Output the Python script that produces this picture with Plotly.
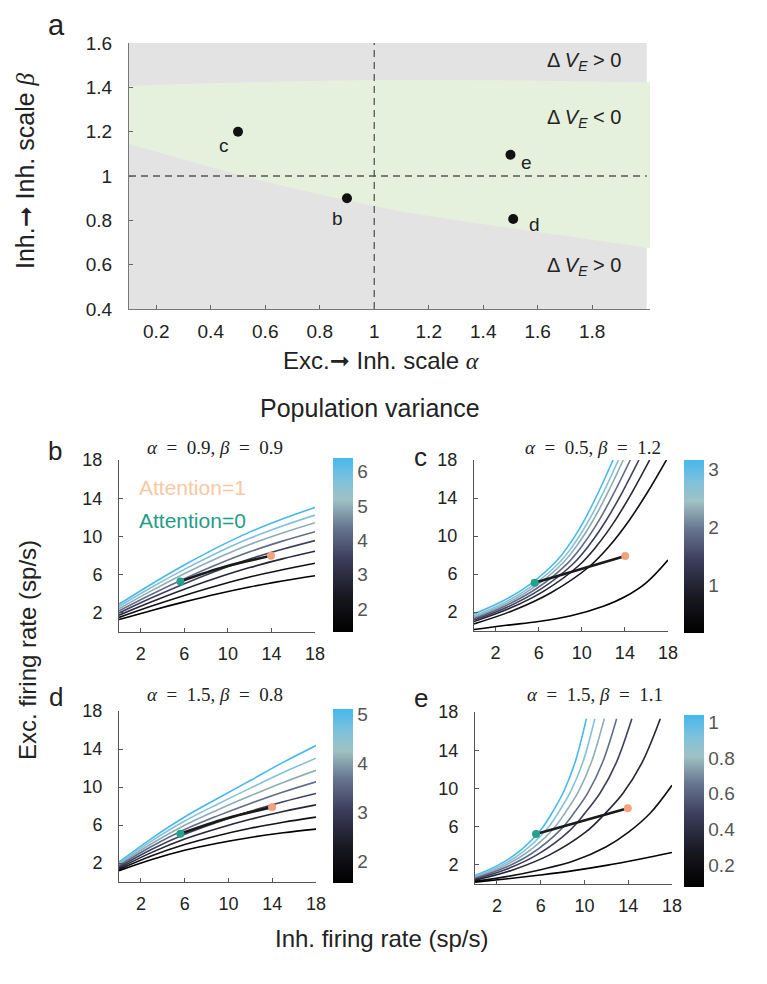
import plotly.graph_objects as go
from plotly.colors import sample_colorscale

# The page body has an 8px margin; the figure is sized so page == 767x984.
OFF = 8
W, H = 767 - OFF, 984 - OFF
FONT = "Liberation Sans, Arial, sans-serif"
SERIF = "Liberation Serif, DejaVu Serif, serif"

# ---------------- Panel a data ----------------
alpha_range = [0.1, 2.0]
beta_range = [0.4, 1.6]
alpha_ticks = [0.2, 0.4, 0.6, 0.8, 1, 1.2, 1.4, 1.6, 1.8]
beta_ticks = [0.4, 0.6, 0.8, 1, 1.2, 1.4, 1.6]
green_top_alpha = [0.1, 0.2, 0.3, 0.5, 0.7, 1.0, 1.25, 1.5, 1.75, 2.012]
green_top_beta = [1.406, 1.411, 1.415, 1.422, 1.428, 1.433, 1.434, 1.432, 1.428, 1.423]
green_bot_alpha = [0.1, 0.3, 0.5, 0.7, 0.9, 1.1, 1.3, 1.5, 1.7, 1.9, 2.012]
green_bot_beta = [1.144, 1.075, 1.006, 0.945, 0.89, 0.84, 0.80, 0.767, 0.73, 0.695, 0.675]
ref_alpha = 1.0
ref_beta = 1.0
pt_labels = ["c", "b", "e", "d"]
pt_alpha = [0.5, 0.9, 1.5, 1.51]
pt_beta = [1.2, 0.9, 1.096, 0.806]
region_alpha = [1.77, 1.77, 1.77]
region_beta = [1.515, 1.26, 0.594]
region_text = ["&gt;", "&lt;", "&gt;"]

# ---------------- Panels b-e data (Inh. rate x, Exc. rate y) ----------------
rate_ticks = [2, 6, 10, 14, 18]

b_x = [0, 3, 6, 9, 12, 15, 18]
b_y = [
    [2.90, 5.03, 7.01, 8.83, 10.45, 11.82, 13.04],
    [2.67, 4.68, 6.55, 8.27, 9.80, 11.09, 12.24],
    [2.44, 4.33, 6.09, 7.71, 9.15, 10.36, 11.44],
    [2.21, 3.95, 5.57, 7.06, 8.39, 9.51, 10.50],
    [1.99, 3.58, 5.06, 6.42, 7.64, 8.66, 9.57],
    [1.76, 3.16, 4.47, 5.67, 6.74, 7.65, 8.45],
    [1.53, 2.72, 3.83, 4.85, 5.75, 6.52, 7.20],
    [1.30, 2.26, 3.15, 3.98, 4.71, 5.33, 5.88],
]
b_var = [6.40, 5.68, 4.95, 4.23, 3.50, 2.78, 2.05, 1.33]
b_var_range = [1.33, 6.4]
b_var_ticks = [2, 3, 4, 5, 6]
b_att_x = [5.64, 9.8, 13.96]
b_att_y = [5.29, 6.85, 7.97]

c_x = [
    [0, 2.58, 5.16, 7.74, 9.03, 10.32, 11.61, 12.9],
    [0, 2.68, 5.36, 8.04, 9.38, 10.72, 12.06, 13.4],
    [0, 2.77, 5.54, 8.31, 9.70, 11.08, 12.47, 13.85],
    [0, 2.9, 5.8, 8.7, 10.15, 11.6, 13.05, 14.5],
    [0, 3.06, 6.12, 9.18, 10.71, 12.24, 13.77, 15.3],
    [0, 3.26, 6.52, 9.78, 11.41, 13.04, 14.67, 16.3],
    [0, 3.57, 7.14, 10.71, 12.50, 14.28, 16.07, 17.85],
    [0, 3, 6, 9, 12, 14, 16, 18],
]
c_y = [
    [1.8, 3.10, 4.88, 7.47, 9.41, 11.84, 14.76, 18],
    [1.6, 2.91, 4.72, 7.34, 9.31, 11.77, 14.72, 18],
    [1.45, 2.77, 4.59, 7.24, 9.23, 11.71, 14.69, 18],
    [1.3, 2.64, 4.47, 7.15, 9.15, 11.65, 14.66, 18],
    [1.15, 2.50, 4.35, 7.05, 9.07, 11.60, 14.63, 18],
    [1.0, 2.36, 4.23, 6.95, 8.99, 11.54, 14.6, 18],
    [0.75, 2.13, 4.03, 6.79, 8.86, 11.45, 14.55, 18],
    [0.15, 0.6, 1.0, 1.6, 2.6, 3.6, 5.1, 7.47],
]
c_var = [3.17, 2.74, 2.31, 1.88, 1.46, 1.03, 0.60, 0.17]
c_var_range = [0.17, 3.17]
c_var_ticks = [1, 2, 3]
c_att_x = [5.63, 14.03]
c_att_y = [5.09, 7.9]

d_x = [0, 3, 6, 9, 12, 15, 18]
d_y = [
    [2.10, 4.60, 6.84, 8.79, 10.69, 12.59, 14.36],
    [1.97, 4.33, 6.42, 8.19, 9.88, 11.53, 13.03],
    [1.84, 4.05, 5.97, 7.58, 9.07, 10.48, 11.76],
    [1.71, 3.76, 5.52, 6.96, 8.27, 9.47, 10.54],
    [1.58, 3.45, 5.03, 6.30, 7.44, 8.44, 9.31],
    [1.45, 3.12, 4.52, 5.63, 6.60, 7.42, 8.12],
    [1.32, 2.76, 3.94, 4.87, 5.65, 6.29, 6.83],
    [1.19, 2.37, 3.34, 4.08, 4.69, 5.18, 5.57],
]
d_var = [5.10, 4.59, 4.09, 3.58, 3.08, 2.57, 2.07, 1.56]
d_var_range = [1.56, 5.1]
d_var_ticks = [2, 3, 4, 5]
d_att_x = [5.61, 9.8, 13.99]
d_att_y = [5.08, 6.68, 7.88]

e_x = [
    [0, 2.04, 4.07, 6.11, 7.13, 8.14, 9.16, 10.18],
    [0, 2.19, 4.38, 6.57, 7.67, 8.76, 9.86, 10.95],
    [0, 2.36, 4.72, 7.09, 8.27, 9.45, 10.63, 11.81],
    [0, 2.59, 5.18, 7.76, 9.06, 10.35, 11.65, 12.94],
    [0, 2.87, 5.73, 8.60, 10.03, 11.46, 12.90, 14.33],
    [0, 3.39, 6.77, 10.16, 11.85, 13.54, 15.24, 16.93],
    [0, 3, 6, 9, 12, 14, 16, 18],
    [0, 3, 6, 9, 12, 15, 18],
]
e_y = [
    [0.9, 1.92, 3.44, 5.82, 7.62, 9.76, 12.79, 17.3],
    [0.8, 1.82, 3.36, 5.75, 7.57, 9.71, 12.76, 17.3],
    [0.7, 1.73, 3.27, 5.68, 7.51, 9.66, 12.74, 17.3],
    [0.6, 1.64, 3.19, 5.61, 7.45, 9.62, 12.71, 17.3],
    [0.5, 1.54, 3.10, 5.54, 7.39, 9.57, 12.68, 17.3],
    [0.4, 1.45, 3.02, 5.47, 7.33, 9.53, 12.65, 17.3],
    [0.3, 0.8, 1.5, 2.4, 3.9, 5.4, 7.4, 10.33],
    [0.2, 0.55, 0.95, 1.4, 1.95, 2.6, 3.3],
]
e_var = [1.04, 0.90, 0.77, 0.63, 0.49, 0.35, 0.22, 0.08]
e_var_range = [0.08, 1.04]
e_var_ticks = [0.2, 0.4, 0.6, 0.8, 1]
e_att_x = [5.58, 13.96]
e_att_y = [5.22, 7.93]

# ---------------- styles ----------------
CS = [[0.0, "#000000"], [0.2, "#17171f"], [0.42, "#3c3d5c"], [0.6, "#677590"],
      [0.76, "#9fc2c3"], [0.88, "#7cc1dc"], [1.0, "#46b8ec"]]
GREEN = "#25a08a"
ORANGE = "#f5a27c"


def px(x):
    return (x - OFF) / W


def py(y):
    return 1 - (y - OFF) / H


fig = go.Figure()

# ---------------- Panel a ----------------
fig.add_trace(go.Scatter(
    x=[alpha_range[0], alpha_range[1], alpha_range[1], alpha_range[0]],
    y=[beta_range[0], beta_range[0], beta_range[1], beta_range[1]],
    fill="toself", fillcolor="#e3e3e3", mode="lines", line=dict(width=0),
    hoverinfo="skip", xaxis="x", yaxis="y"))
fig.add_trace(go.Scatter(
    x=green_top_alpha + green_bot_alpha[::-1],
    y=green_top_beta + green_bot_beta[::-1],
    fill="toself", fillcolor="#e5f1dc", mode="lines", line=dict(width=0),
    hoverinfo="skip", xaxis="x", yaxis="y"))
fig.add_trace(go.Scatter(
    x=[ref_alpha, ref_alpha], y=beta_range, mode="lines",
    line=dict(color="#555555", width=1.3, dash="7px,5px"), xaxis="x", yaxis="y"))
fig.add_trace(go.Scatter(
    x=alpha_range, y=[ref_beta, ref_beta], mode="lines",
    line=dict(color="#555555", width=1.3, dash="7px,5px"), xaxis="x", yaxis="y"))
fig.add_trace(go.Scatter(
    x=pt_alpha, y=pt_beta, mode="markers",
    marker=dict(color="#111111", size=10), xaxis="x", yaxis="y"))

annotations = []
label_shift = {"c": (-14, -14), "b": (-9, -20), "e": (16, -8), "d": (21, -5)}
for lab, a, b in zip(pt_labels, pt_alpha, pt_beta):
    dx, dy = label_shift[lab]
    annotations.append(dict(text=lab, x=a, y=b, xref="x", yref="y", showarrow=False,
                            xshift=dx, yshift=dy, font=dict(size=19, color="#222", family=FONT)))
for a, b, sgn in zip(region_alpha, region_beta, region_text):
    annotations.append(dict(
        text="Δ <i>V</i><sub><i>E</i></sub> " + sgn + " 0", x=a, y=b, xref="x", yref="y",
        showarrow=False, font=dict(size=20, color="#222", family=FONT)))

# ---------------- Panels b-e ----------------
panels = [
    ("2", [b_x] * 8, b_y, b_var, b_var_range, b_var_ticks, b_att_x, b_att_y, "spline",
     dict(x=333, yc=545, h=174)),
    ("3", c_x, c_y, c_var, c_var_range, c_var_ticks, c_att_x, c_att_y, "linear",
     dict(x=684, yc=546.5, h=173)),
    ("4", [d_x] * 8, d_y, d_var, d_var_range, d_var_ticks, d_att_x, d_att_y, "spline",
     dict(x=333, yc=796, h=174)),
    ("5", e_x, e_y, e_var, e_var_range, e_var_ticks, e_att_x, e_att_y, "linear",
     dict(x=684, yc=801, h=172)),
]

for ax, xs, ys, var, vr, vt, attx, atty, lshape, cb in panels:
    xa, ya = "x" + ax, "y" + ax
    for xx, yy, v in zip(xs, ys, var):
        col = sample_colorscale(CS, [(v - vr[0]) / (vr[1] - vr[0])])[0]
        fig.add_trace(go.Scatter(x=xx, y=yy, mode="lines",
                                 line=dict(color=col, width=1.6, shape="spline", smoothing=1.0),
                                 hoverinfo="skip", xaxis=xa, yaxis=ya))
    fig.add_trace(go.Scatter(x=attx, y=atty, mode="lines",
                             line=dict(color="#1a1a1a", width=2.6, shape=lshape),
                             hoverinfo="skip", xaxis=xa, yaxis=ya))
    fig.add_trace(go.Scatter(x=[attx[0]], y=[atty[0]], mode="markers",
                             marker=dict(color=GREEN, size=8), xaxis=xa, yaxis=ya))
    fig.add_trace(go.Scatter(x=[attx[-1]], y=[atty[-1]], mode="markers",
                             marker=dict(color=ORANGE, size=8), xaxis=xa, yaxis=ya))
    # colorbar carrier
    fig.add_trace(go.Scatter(
        x=[attx[0], attx[0]], y=[atty[0], atty[0]], mode="markers",
        marker=dict(size=1, opacity=0, color=vr, cmin=vr[0], cmax=vr[1], colorscale=CS,
                    showscale=True,
                    colorbar=dict(x=px(cb["x"]), xanchor="left", xpad=0, ypad=0,
                                  y=py(cb["yc"]), yanchor="middle", len=cb["h"] / H,
                                  lenmode="fraction", thickness=20, thicknessmode="pixels",
                                  outlinewidth=0, tickvals=vt, ticks="",
                                  tickfont=dict(size=19, color="#555", family=FONT))),
        hoverinfo="skip", xaxis=xa, yaxis=ya))

# ---------------- layout ----------------
small_common = dict(range=[0, 18], tickvals=rate_ticks, ticks="inside", ticklen=4,
                    tickcolor="#555", showline=True, linecolor="#555", linewidth=1,
                    showgrid=False, zeroline=False,
                    tickfont=dict(size=18, color="#222", family=FONT))

dom = {
    "2": ([119, 315], [460, 632]),
    "3": ([474, 668], [460, 631]),
    "4": ([119, 316], [711, 882]),
    "5": ([475, 672], [712, 884]),
}

layout = dict(
    width=W, height=H, margin=dict(l=0, r=0, t=0, b=0, autoexpand=False),
    paper_bgcolor="white", plot_bgcolor="white", showlegend=False,
    font=dict(family=FONT, color="#222"),
    xaxis=dict(domain=[px(129), px(650)], range=[0.1, 2.012], tickvals=alpha_ticks,
               ticks="inside", ticklen=4, tickcolor="#666", showline=True, linecolor="#777",
               showgrid=False, zeroline=False, anchor="y", ticklabelstandoff=5,
               tickfont=dict(size=19, color="#222", family=FONT)),
    yaxis=dict(domain=[py(309), py(43)], range=beta_range, tickvals=beta_ticks,
               ticks="inside", ticklen=4, tickcolor="#666", showline=True, linecolor="#777",
               showgrid=False, zeroline=False, anchor="x", ticklabelstandoff=12,
               tickfont=dict(size=19, color="#222", family=FONT)),
)
for k, (xd, yd) in dom.items():
    layout["xaxis" + k] = dict(small_common, domain=[px(xd[0]), px(xd[1])], anchor="y" + k,
                               ticklabelstandoff=5)
    layout["yaxis" + k] = dict(small_common, domain=[py(yd[1]), py(yd[0])], anchor="x" + k,
                               ticklabelstandoff=12)


def ann(text, xp, yp, size, color="#222", family=FONT, angle=0, xanchor="center"):
    return dict(text=text, x=px(xp), y=py(yp), xref="paper", yref="paper", showarrow=False,
                font=dict(size=size, color=color, family=family), textangle=angle,
                xanchor=xanchor, yanchor="middle")


GA = '<span style="font-family:Liberation Serif"><i>α</i></span>'
GB = '<span style="font-family:Liberation Serif"><i>β</i></span>'
ARR = '<span style="font-family:DejaVu Sans">➞</span>'
sp = "\u2002"
annotations += [
    ann("a", 56, 25, 29),
    ann("b", 55, 451, 26),
    ann("c", 420, 457, 26),
    ann("d", 56, 697, 26),
    ann("e", 421, 698, 26),
    ann("Inh." + ARR + " Inh. scale " + GB, 25, 171, 25, angle=-90),
    ann("Exc." + ARR + " Inh. scale " + GA, 381, 361, 24),
    ann("Population variance", 370, 408, 25),
    ann("Exc. firing rate (sp/s)", 27, 650, 24, angle=-90),
    ann("Inh. firing rate (sp/s)", 381, 938, 24),
    ann("Attention=1", 137, 487, 21, color="#f8c8a0", xanchor="left"),
    ann("Attention=0", 137, 520, 21, color="#1f9c88", xanchor="left"),
    ann("<i>α</i>" + sp + "=" + sp + "0.9, <i>β</i>" + sp + "=" + sp + "0.9", 215, 447, 19, family=SERIF),
    ann("<i>α</i>" + sp + "=" + sp + "0.5, <i>β</i>" + sp + "=" + sp + "1.2", 593, 448, 19, family=SERIF),
    ann("<i>α</i>" + sp + "=" + sp + "1.5, <i>β</i>" + sp + "=" + sp + "0.8", 215, 694, 19, family=SERIF),
    ann("<i>α</i>" + sp + "=" + sp + "1.5, <i>β</i>" + sp + "=" + sp + "1.1", 595, 694, 19, family=SERIF),
]
layout["annotations"] = annotations
fig.update_layout(**layout)

fig.write_html("out.html")
